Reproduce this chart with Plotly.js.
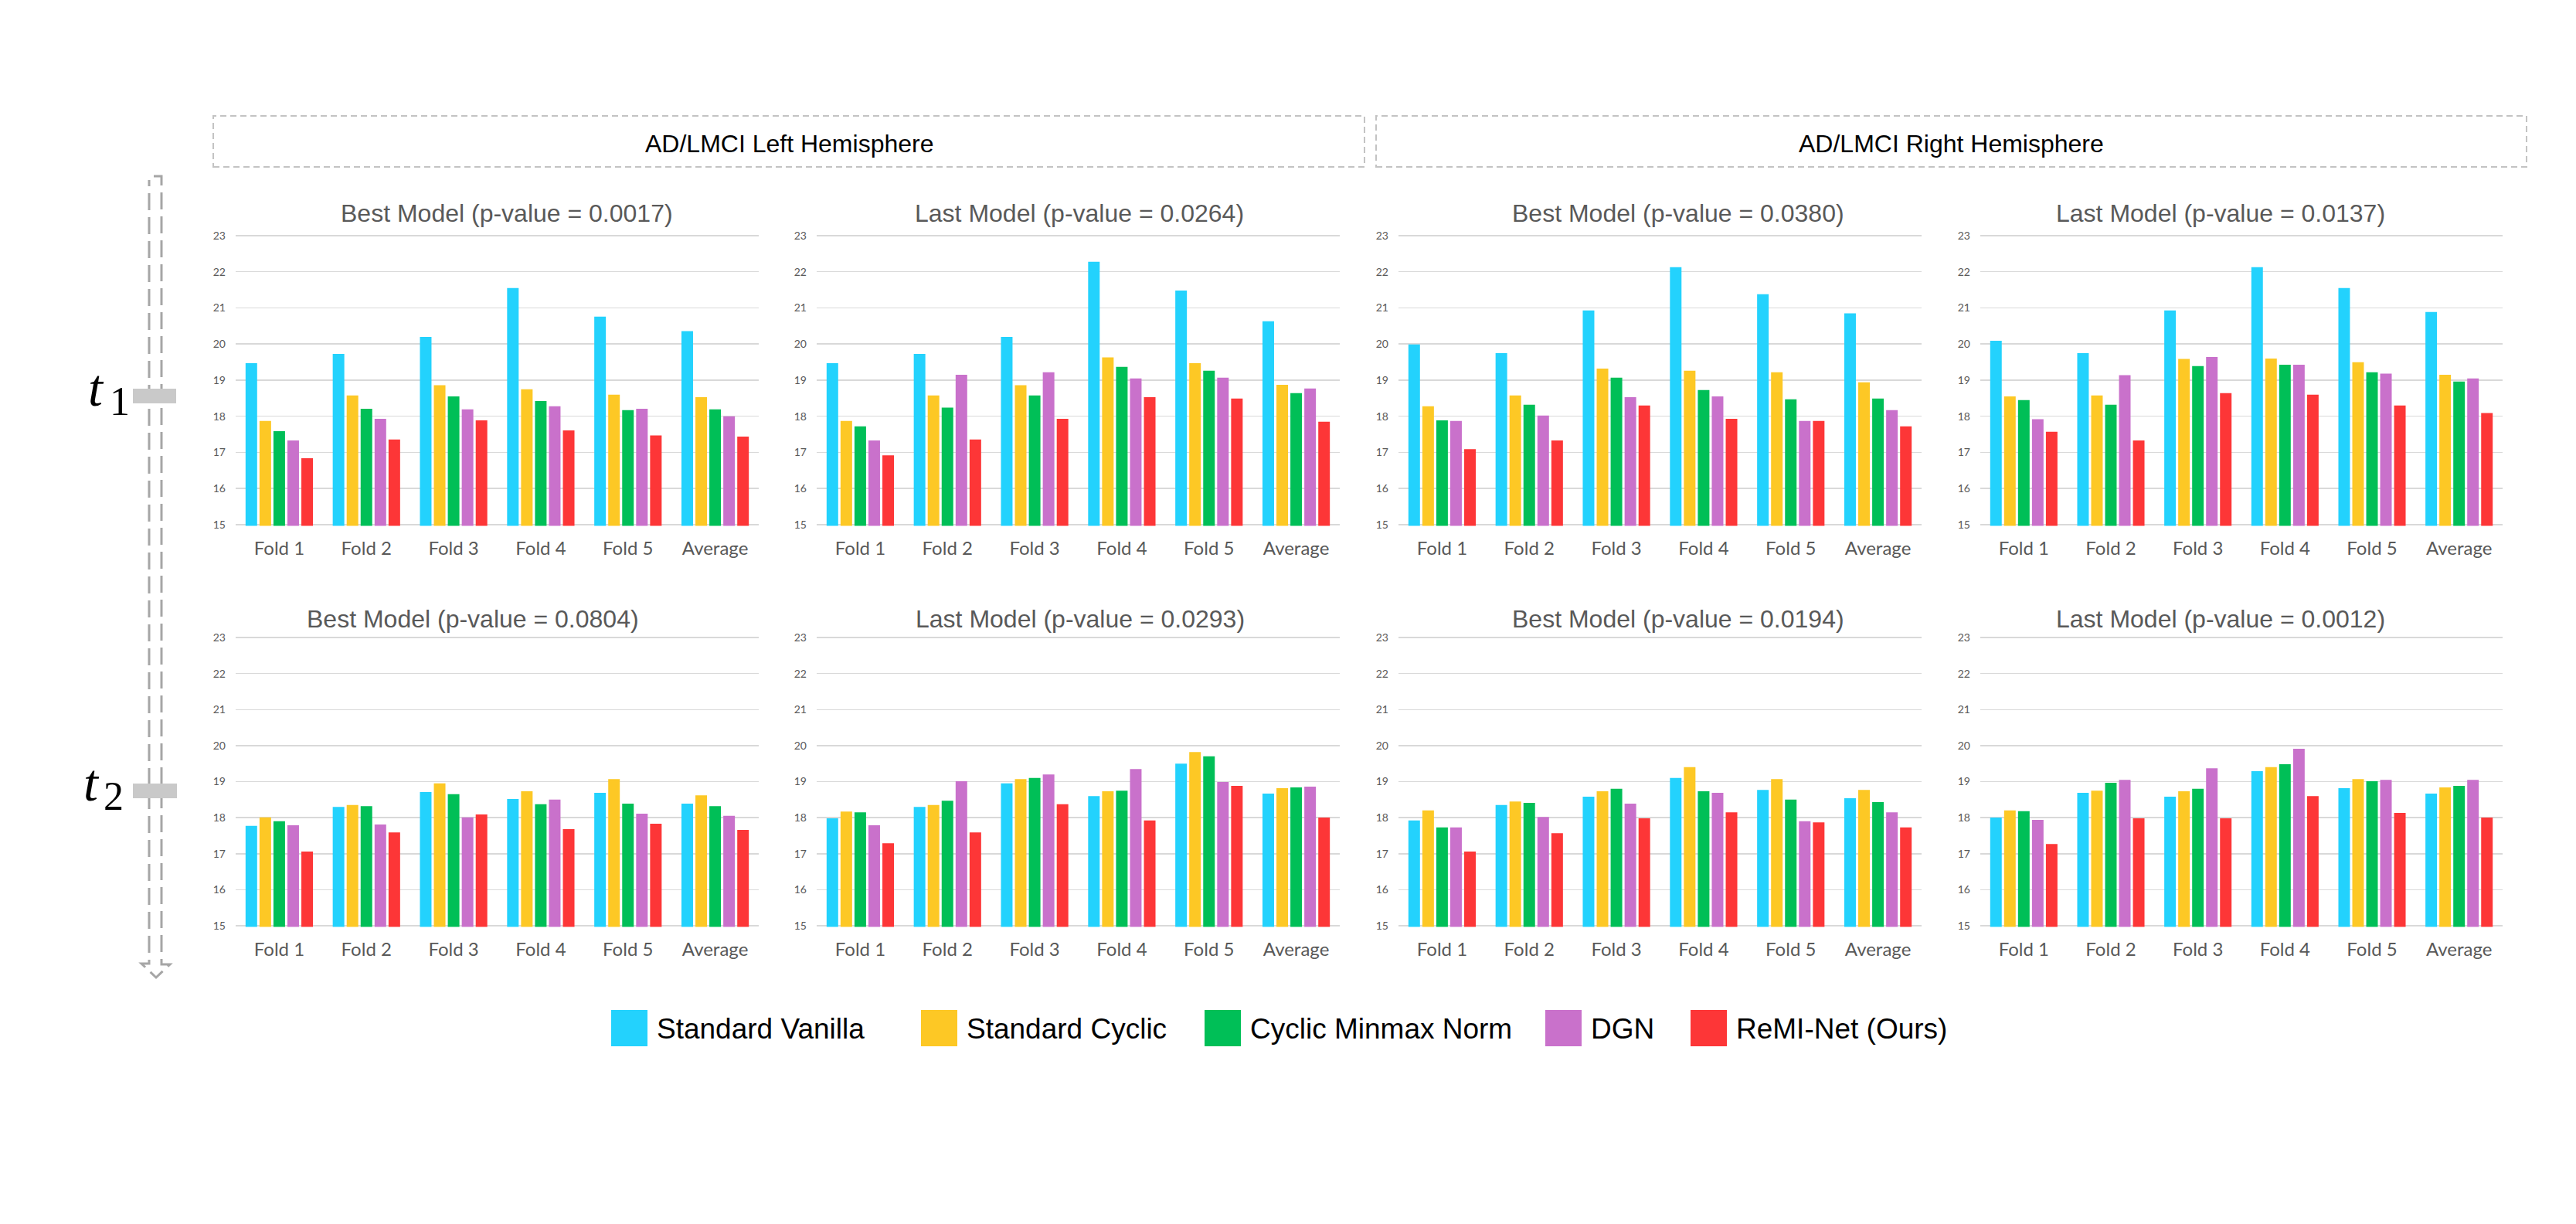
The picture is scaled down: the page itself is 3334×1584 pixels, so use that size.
<!DOCTYPE html>
<html><head><meta charset="utf-8">
<script src="https://cdn.plot.ly/plotly-3.0.1.min.js"></script>
<style>html,body{margin:0;padding:0;background:#fff;} #chart{width:3334px;height:1584px;}</style>
</head><body><div id="chart"></div>
<script>
// ---------------- DATA ----------------
const categories = ['Fold 1', 'Fold 2', 'Fold 3', 'Fold 4', 'Fold 5', 'Average'];
const seriesNames = ['Standard Vanilla', 'Standard Cyclic', 'Cyclic Minmax Norm', 'DGN', 'ReMI-Net (Ours)'];
const yTicks = [15, 16, 17, 18, 19, 20, 21, 22, 23];
const headerTitles = ['AD/LMCI Left Hemisphere', 'AD/LMCI Right Hemisphere'];
const timeLabels = ['1', '2'];
const panelTitles = [
  'Best Model (p-value = 0.0017)', 'Last Model (p-value = 0.0264)',
  'Best Model (p-value = 0.0380)', 'Last Model (p-value = 0.0137)',
  'Best Model (p-value = 0.0804)', 'Last Model (p-value = 0.0293)',
  'Best Model (p-value = 0.0194)', 'Last Model (p-value = 0.0012)'
];
// each panel: rows = series (Vanilla, Cyclic, Minmax, DGN, ReMI-Net), columns = categories
const leftT1Best = [
  [19.47, 19.73, 20.20, 21.55, 20.76, 20.36],
  [17.87, 18.58, 18.86, 18.75, 18.60, 18.53],
  [17.59, 18.21, 18.55, 18.42, 18.17, 18.19],
  [17.33, 17.93, 18.19, 18.28, 18.21, 18.00],
  [16.84, 17.36, 17.89, 17.61, 17.47, 17.44]
];
const leftT1Last = [
  [19.47, 19.73, 20.20, 22.28, 21.48, 20.63],
  [17.87, 18.58, 18.86, 19.63, 19.47, 18.87],
  [17.72, 18.24, 18.58, 19.37, 19.26, 18.64],
  [17.33, 19.15, 19.22, 19.05, 19.07, 18.77],
  [16.92, 17.36, 17.93, 18.53, 18.49, 17.85]
];
const rightT1Best = [
  [19.99, 19.75, 20.93, 22.13, 21.38, 20.85],
  [18.28, 18.58, 19.32, 19.26, 19.22, 18.94],
  [17.89, 18.32, 19.07, 18.73, 18.47, 18.49],
  [17.87, 18.02, 18.53, 18.55, 17.87, 18.17],
  [17.09, 17.33, 18.30, 17.93, 17.87, 17.72]
];
const rightT1Last = [
  [20.09, 19.75, 20.93, 22.13, 21.55, 20.89],
  [18.55, 18.58, 19.59, 19.60, 19.50, 19.15],
  [18.45, 18.32, 19.39, 19.43, 19.22, 18.96],
  [17.92, 19.14, 19.64, 19.43, 19.18, 19.05],
  [17.57, 17.33, 18.64, 18.60, 18.30, 18.09]
];
const leftT2Best = [
  [17.77, 18.30, 18.71, 18.52, 18.69, 18.39],
  [18.01, 18.35, 18.95, 18.73, 19.07, 18.62],
  [17.90, 18.32, 18.65, 18.37, 18.39, 18.32],
  [17.79, 17.81, 18.01, 18.50, 18.11, 18.05],
  [17.06, 17.59, 18.09, 17.68, 17.83, 17.66]
];
const leftT2Last = [
  [17.98, 18.30, 18.95, 18.60, 19.50, 18.67],
  [18.17, 18.35, 19.07, 18.73, 19.82, 18.82],
  [18.15, 18.47, 19.10, 18.75, 19.70, 18.84],
  [17.79, 19.01, 19.20, 19.35, 18.99, 18.86],
  [17.29, 17.59, 18.37, 17.92, 18.88, 18.00]
];
const rightT2Best = [
  [17.92, 18.35, 18.58, 19.10, 18.77, 18.54],
  [18.20, 18.45, 18.73, 19.40, 19.07, 18.77],
  [17.73, 18.41, 18.80, 18.73, 18.50, 18.43],
  [17.73, 18.02, 18.39, 18.69, 17.90, 18.15],
  [17.06, 17.57, 17.98, 18.15, 17.87, 17.73]
];
const rightT2Last = [
  [18.00, 18.69, 18.58, 19.29, 18.82, 18.67],
  [18.20, 18.75, 18.73, 19.40, 19.07, 18.84],
  [18.18, 18.97, 18.80, 19.48, 19.01, 18.88],
  [17.94, 19.05, 19.37, 19.91, 19.05, 19.05],
  [17.27, 17.98, 17.98, 18.60, 18.13, 18.00]
];
const panels = [leftT1Best, leftT1Last, rightT1Best, rightT1Last,
                leftT2Best, leftT2Last, rightT2Best, rightT2Last];

// ---------------- STYLE / LAYOUT ----------------
const seriesColors = ['#23D2FD', '#FDC825', '#00BF57', '#C971CB', '#FD3637'];
const W = 3334, H = 1584;
const px = x => x / W;
const py = y => 1 - y / H;
const colX = [[305, 982], [1057, 1734], [1810, 2487], [2563, 3239]];
const rowY = [[305, 679], [825, 1198]];           // pixel y of 23 and 15
const titleX = [[656, 1397, 2172, 2874], [612, 1398, 2172, 2874]];
const titleY = [276, 801];
const yPad = 0.03;
const yRange = [15 - yPad, 23 + yPad];
const sans = 'Liberation Sans, Arial, sans-serif';
const tickFamily = 'Lato, Calibri, sans-serif';
const gray = '#595959';

const traces = [];
const layout = {
  width: W, height: H,
  margin: {l: 0, r: 0, t: 0, b: 0, pad: 0},
  paper_bgcolor: '#ffffff', plot_bgcolor: 'rgba(0,0,0,0)',
  showlegend: false,
  barmode: 'group', bargap: 0.2, bargroupgap: 0.17,
  shapes: [], annotations: []
};

panels.forEach((data, p) => {
  const row = Math.floor(p / 4), col = p % 4;
  const idx = p === 0 ? '' : String(p + 1);
  const [top, bot] = rowY[row];
  const padPx = yPad * (bot - top) / 8;
  layout['xaxis' + idx] = {
    domain: [px(colX[col][0]), px(colX[col][1])],
    anchor: 'y' + idx, type: 'category',
    showgrid: false, showline: false, zeroline: false, ticks: '',
    tickfont: {family: tickFamily, size: 24, color: gray},
    ticklabelstandoff: 13, fixedrange: true
  };
  layout['yaxis' + idx] = {
    domain: [py(bot + padPx), py(top - padPx)],
    anchor: 'x' + idx, range: yRange,
    tickmode: 'array', tickvals: yTicks, ticktext: yTicks.map(String),
    showgrid: true, gridcolor: '#d9d9d9', gridwidth: 1.5,
    showline: false, zeroline: false, ticks: '',
    tickfont: {family: tickFamily, size: 14, color: gray},
    ticklabelstandoff: 12, fixedrange: true
  };
  data.forEach((vals, s) => {
    traces.push({
      type: 'bar', x: categories, y: vals, name: seriesNames[s],
      xaxis: 'x' + idx, yaxis: 'y' + idx,
      marker: {color: seriesColors[s], line: {width: 0}},
      showlegend: false, hoverinfo: 'x+y+name'
    });
  });
  layout.annotations.push({
    xref: 'paper', yref: 'paper', x: px(titleX[row][col]), y: py(titleY[row]),
    xanchor: 'center', yanchor: 'middle', showarrow: false,
    text: panelTitles[p], font: {family: sans, size: 32, color: gray}
  });
});

// header boxes
const headerBoxes = [[276, 1766], [1781, 3270]];
headerBoxes.forEach((b, i) => {
  layout.shapes.push({
    type: 'rect', xref: 'paper', yref: 'paper',
    x0: px(b[0]), x1: px(b[1]), y0: py(216), y1: py(150),
    line: {color: '#c3c3c3', width: 2, dash: '8px,5px'}, fillcolor: 'rgba(0,0,0,0)'
  });
  layout.annotations.push({
    xref: 'paper', yref: 'paper', x: px((b[0] + b[1]) / 2), y: py(186),
    xanchor: 'center', yanchor: 'middle', showarrow: false,
    text: headerTitles[i], font: {family: sans, size: 32, color: '#000000'}
  });
});

// time axis arrow (dashed outline)
const arrowPts = [[199, 228], [209, 228], [209, 1248], [220, 1248], [202, 1265], [183, 1247], [193, 1247], [193, 233]];
const arrowPath = arrowPts.map((pt, i) => (i === 0 ? 'M' : 'L') + px(pt[0]).toFixed(6) + ',' + py(pt[1]).toFixed(6)).join(' ');
layout.shapes.push({
  type: 'path', xref: 'paper', yref: 'paper', path: arrowPath,
  line: {color: '#a6a6a6', width: 3, dash: '22px,9px'}
});

// time markers
const timeMarks = [
  {rect: [172, 228, 503, 522], tx: 112, tBase: 528, sx: 140, sBase: 539},
  {rect: [172, 229, 1014, 1033], tx: 106, tBase: 1039, sx: 132, sBase: 1050}
];
timeMarks.forEach((m, i) => {
  layout.shapes.push({
    type: 'rect', xref: 'paper', yref: 'paper',
    x0: px(m.rect[0]), x1: px(m.rect[1]), y0: py(m.rect[3]), y1: py(m.rect[2]),
    line: {width: 0}, fillcolor: '#c9c9c9'
  });
  layout.annotations.push({
    xref: 'paper', yref: 'paper', x: px(m.tx), y: py(m.tBase + 14),
    xanchor: 'left', yanchor: 'bottom', showarrow: false,
    text: '<i>t</i>', font: {family: 'Liberation Serif, DejaVu Serif, serif', size: 68, color: '#000000'}
  });
  layout.annotations.push({
    xref: 'paper', yref: 'paper', x: px(m.sx), y: py(m.sBase + 11),
    xanchor: 'left', yanchor: 'bottom', showarrow: false,
    text: timeLabels[i], font: {family: 'Liberation Serif, DejaVu Serif, serif', size: 52, color: '#000000'}
  });
});

// legend (drawn manually so symbols match the reference size)
const legendSquareX = [791, 1192, 1559, 2000, 2188];
const legendTop = 1307, legendSize = 47;
seriesNames.forEach((name, s) => {
  const x0 = legendSquareX[s];
  layout.shapes.push({
    type: 'rect', xref: 'paper', yref: 'paper',
    x0: px(x0), x1: px(x0 + legendSize), y0: py(legendTop + legendSize), y1: py(legendTop),
    line: {width: 0}, fillcolor: seriesColors[s]
  });
  layout.annotations.push({
    xref: 'paper', yref: 'paper', x: px(x0 + legendSize + 10), y: py(1331),
    xanchor: 'left', yanchor: 'middle', showarrow: false,
    text: name, font: {family: sans, size: 37, color: '#000000'}
  });
});

Plotly.newPlot('chart', traces, layout, {displayModeBar: false, staticPlot: true});
</script>
</body></html>
